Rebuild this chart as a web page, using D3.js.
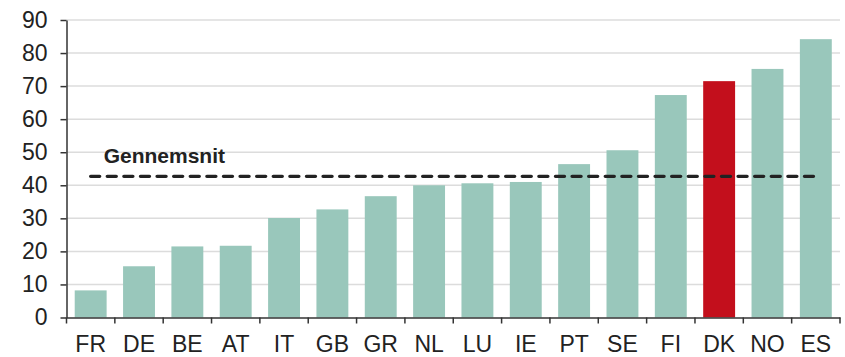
<!DOCTYPE html>
<html>
<head>
<meta charset="utf-8">
<script src="https://cdn.jsdelivr.net/npm/d3@7"></script>
<style>
  body { margin: 0; background: #fff; }
  text { font-family: "Liberation Sans", Arial, sans-serif; }
</style>
</head>
<body>
<div id="chart-area"></div>
<script>
// data
var countries = ["FR", "DE", "BE", "AT", "IT", "GB", "GR", "NL", "LU", "IE", "PT", "SE", "FI", "DK", "NO", "ES"];
var values = [8.2, 15.5, 21.5, 21.7, 30.1, 32.7, 36.7, 40.0, 40.6, 41.0, 46.4, 50.6, 67.3, 71.5, 75.2, 84.2];
var average = 42.7;
var averageLabel = "Gennemsnit";
var highlight = "DK";
var yTicks = [0, 10, 20, 30, 40, 50, 60, 70, 80, 90];

var margin = {top: 20, right: 5, bottom: 39.5, left: 66.5},
    width = 845 - margin.left - margin.right,
    height = 357 - margin.top - margin.bottom;

var svg = d3.select("#chart-area").append("svg")
    .attr("width", 845)
    .attr("height", 357)
    .append("g")
    .attr("transform", "translate(" + margin.left + "," + margin.top + ")");

var x = d3.scaleBand()
    .domain(countries)
    .range([0, width])
    .paddingInner(0.34)
    .paddingOuter(0.17);

var y = d3.scaleLinear()
    .domain([0, 90])
    .range([height, 0]);

// gridlines
svg.append("g")
    .selectAll("line")
    .data(yTicks.slice(1))
    .enter().append("line")
    .attr("x1", 0)
    .attr("x2", width)
    .attr("y1", function(d) { return y(d); })
    .attr("y2", function(d) { return y(d); })
    .attr("stroke", "#dcdcdc")
    .attr("stroke-width", 1.5);

// bars
svg.selectAll(".bar")
    .data(countries)
    .enter().append("rect")
    .attr("class", "bar")
    .attr("x", function(d) { return x(d); })
    .attr("width", x.bandwidth())
    .attr("y", function(d, i) { return y(values[i]); })
    .attr("height", function(d, i) { return height - y(values[i]); })
    .attr("fill", function(d) { return d === highlight ? "#c30f1c" : "#99c7bb"; });

// average line
var step = x.step();
var xStart = x(countries[0]) + x.bandwidth() / 2,
    xEnd = x(countries[countries.length - 1]) + x.bandwidth() / 2;

svg.append("line")
    .attr("x1", xStart)
    .attr("x2", xEnd)
    .attr("y1", y(average))
    .attr("y2", y(average))
    .attr("stroke", "#222")
    .attr("stroke-width", 3.4)
    .attr("stroke-linecap", "round")
    .attr("stroke-dasharray", "9,7.6");

svg.append("text")
    .attr("x", xStart + 13)
    .attr("y", y(average) - 13)
    .attr("font-weight", "bold")
    .attr("font-size", "21px")
    .attr("fill", "#222")
    .text(averageLabel);

// y axis
var yAxis = svg.append("g")
    .call(d3.axisLeft(y).tickValues(yTicks).tickSize(6).tickPadding(13).tickSizeOuter(0));

// x axis with ticks at the band edges
var xAxis = svg.append("g")
    .attr("transform", "translate(0," + height + ")")
    .call(d3.axisBottom(x).tickSize(0).tickPadding(18));

xAxis.selectAll(".edge")
    .data(countries.concat(["end"]))
    .enter().append("line")
    .attr("class", "edge")
    .attr("x1", function(d, i) { return i * step; })
    .attr("x2", function(d, i) { return i * step; })
    .attr("y1", 0)
    .attr("y2", 6)
    .attr("stroke", "#333")
    .attr("stroke-width", 1.5);

[yAxis, xAxis].forEach(function(a) {
    a.select(".domain").attr("stroke", "#333").attr("stroke-width", 1.5);
    a.selectAll(".tick line").attr("stroke", "#333").attr("stroke-width", 1.5);
    a.selectAll("text")
        .attr("font-size", "23px")
        .attr("fill", "#222")
        .style("font-family", "'Liberation Sans', Arial, sans-serif");
});
</script>
</body>
</html>
